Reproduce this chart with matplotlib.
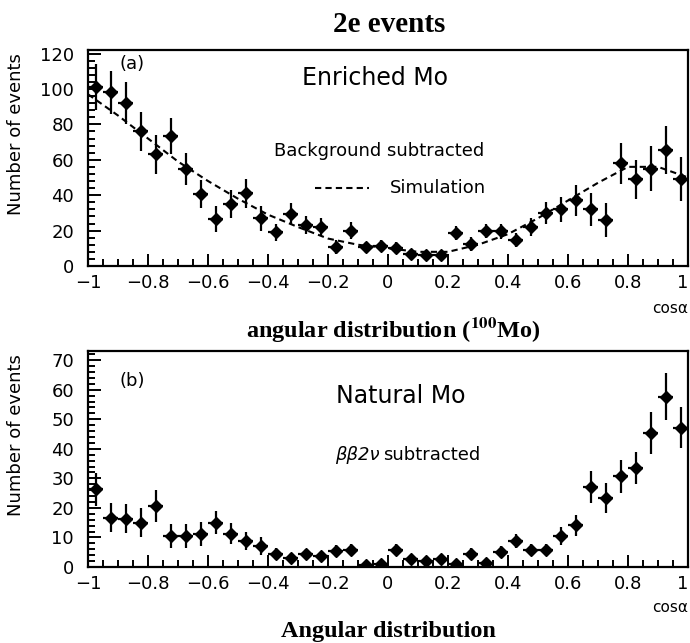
import numpy as np
import matplotlib
matplotlib.use("Agg")
import matplotlib.pyplot as plt
from matplotlib.ticker import MultipleLocator

plt.rcParams['font.family'] = ['DejaVu Sans']
plt.rcParams['mathtext.fontset'] = 'stix'

# bin centres, 40 bins of width 0.05
cos_bins = np.arange(-0.975, 1.0, 0.05)
half_bin = 0.025

# (a) enriched Mo, background subtracted
enriched = [101, 98, 92, 76, 63, 73.5, 55, 40.5, 26.5, 35,
            41, 27, 19, 29.5, 23, 22, 10.5, 20, 10.5, 11.5,
            10, 7, 6, 6, 18.5, 12.5, 20, 19.5, 14.5, 22,
            30, 32, 37, 32, 26, 58, 49, 55, 65.5, 49]
enriched_err = [13, 12, 12, 11, 11, 10, 9, 8, 7.5, 8,
                8, 7, 5, 6, 5, 5, 4, 5, 3, 3,
                3.5, 2.5, 2.5, 2.5, 4, 4, 4, 4, 4, 5,
                6, 7, 8.5, 9.5, 9.5, 11.5, 11, 12.5, 13.5, 12.5]

# simulation curve (dashed)
sim_x = [-1.0, -0.9, -0.8, -0.7, -0.6, -0.5, -0.4, -0.3, -0.2, -0.1, 0.0,
         0.1, 0.2, 0.3, 0.4, 0.5, 0.6, 0.7, 0.8, 0.9, 1.0]
sim_y = [97, 85, 72, 59, 48, 38, 29, 22, 15.5, 12, 10,
         8, 8, 12, 18, 27, 37, 47, 56, 56, 50]

# (b) natural Mo, bb2v subtracted
natural = [26.3, 16.7, 16.4, 15, 20.7, 10.4, 10.4, 11.1, 15, 11.3,
           8.8, 7, 4.5, 3.2, 4.5, 3.7, 5.4, 5.9, 0.6, 0.9,
           5.9, 2.8, 2, 2.8, 1.1, 4.3, 1.5, 5.1, 8.8, 5.9,
           5.9, 10.5, 14.1, 27.1, 23.4, 30.7, 33.5, 45.4, 57.6, 47.2]
natural_err = [5.6, 5, 5, 5, 5.5, 4, 4, 4, 4, 3.5,
               3, 3, 2, 1.5, 1.5, 1.5, 2, 2, 1, 1,
               2, 1, 1, 1, 0.5, 2, 1, 2, 2.5, 2,
               2, 3, 3.5, 5.5, 5, 5.5, 5.5, 7, 8, 7]

fig = plt.figure(figsize=(6.9, 6.43), dpi=100)
ax1 = fig.add_axes([88/690, 1 - 266/643, 600/690, 216/643])
ax2 = fig.add_axes([88/690, 1 - 567/643, 600/690, 216/643])


def style_axis(ax, ymax, ymajor, yminor):
    ax.set_xlim(-1, 1)
    ax.set_ylim(0, ymax)
    ax.xaxis.set_major_locator(MultipleLocator(0.2))
    ax.xaxis.set_minor_locator(MultipleLocator(0.05))
    ax.yaxis.set_major_locator(MultipleLocator(ymajor))
    ax.yaxis.set_minor_locator(MultipleLocator(yminor))
    ax.tick_params(which='both', direction='in', top=False, right=False,
                   labelsize=13, width=1.4)
    ax.tick_params(which='major', length=9)
    ax.tick_params(which='minor', length=5)
    ax.tick_params(axis='x', pad=6)
    ax.tick_params(axis='y', pad=10)
    for s in ax.spines.values():
        s.set_linewidth(1.6)
    ax.set_xticks(np.arange(-1, 1.01, 0.2))
    ax.set_xticklabels(['\u22121', '\u22120.8', '\u22120.6', '\u22120.4', '\u22120.2',
                        '0', '0.2', '0.4', '0.6', '0.8', '1'])
    # last label sits on the figure edge, keep it inside
    ax.get_xticklabels()[-1].set_horizontalalignment('right')
    ax.set_ylabel('Number of events', fontsize=13)
    ax.yaxis.set_label_coords(-0.105, 0.61)


ax1.errorbar(cos_bins, enriched, xerr=half_bin, yerr=enriched_err, fmt='D',
             color='black', markersize=6, elinewidth=1.6, capsize=0)
ax1.plot(sim_x, sim_y, color='black', linestyle=(0, (3, 2)), linewidth=1.5)
style_axis(ax1, 122, 20, 4)
ax1.text(-0.894, 114, '(a)', fontsize=13, ha='left', va='center')
ax1.text(-0.045, 106, 'Enriched Mo', fontsize=17, ha='center', va='center')
ax1.text(-0.028, 65, 'Background subtracted', fontsize=13, ha='center', va='center')
ax1.plot([-0.245, -0.062], [44.3, 44.3], color='black', linestyle=(0, (3, 2)), linewidth=1.5)
ax1.text(0.005, 44.3, 'Simulation', fontsize=13, ha='left', va='center')

ax2.errorbar(cos_bins, natural, xerr=half_bin, yerr=natural_err, fmt='D',
             color='black', markersize=6, elinewidth=1.6, capsize=0)
style_axis(ax2, 73.1, 10, 2)
ax2.text(-0.894, 63, '(b)', fontsize=13, ha='left', va='center')
ax2.text(0.043, 57.8, 'Natural Mo', fontsize=17, ha='center', va='center')
ax2.text(-0.027, 37.8, '\u03b2\u03b22\u03bd', fontsize=13, style='italic', ha='right', va='center')
ax2.text(-0.015, 37.8, 'subtracted', fontsize=13, ha='left', va='center')

# titles and axis captions
fig.text(389/690, 1 - 32/643, '2e events', fontsize=21, fontweight='bold',
         family='Liberation Serif', ha='center', va='baseline')
fig.text(393/690, 1 - 337/643, 'angular distribution ($^{\\mathbf{100}}$Mo)', fontsize=17.5,
         fontweight='bold', family='Liberation Serif', ha='center', va='baseline')
fig.text(388/690, 1 - 637/643, 'Angular distribution', fontsize=17.5, fontweight='bold',
         family='Liberation Serif', ha='center', va='baseline')
fig.text(688/690, 1 - 308/643, 'cos\u03b1', fontsize=11, ha='right', va='center')
fig.text(688/690, 1 - 607/643, 'cos\u03b1', fontsize=11, ha='right', va='center')

fig.savefig('out.png', dpi=100)
